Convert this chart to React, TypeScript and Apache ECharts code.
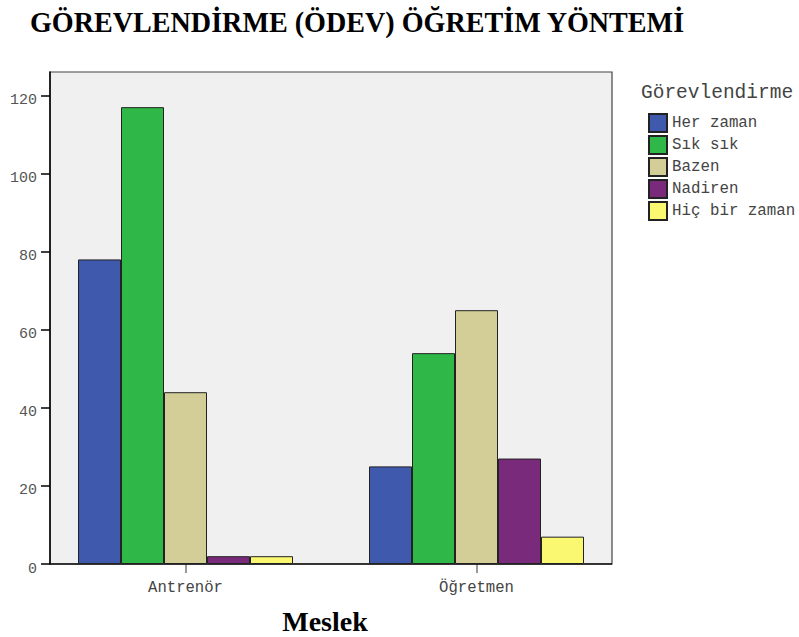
import React, { useEffect, useRef } from "react";
import * as echarts from "echarts";

const categories = ["Antrenör", "Öğretmen"];
const seriesNames = ["Her zaman", "Sık sık", "Bazen", "Nadiren", "Hiç bir zaman"];
const herZaman = [78, 25];
const sikSik = [117, 54];
const bazen = [44, 65];
const nadiren = [2, 27];
const hicBirZaman = [2, 7];
const yTicks = [0, 20, 40, 60, 80, 100, 120];
const colors = ["#3f59ac", "#2fb847", "#d3ce97", "#7a2a7a", "#faf771"];

export default function App() {
  const ref = useRef<HTMLDivElement>(null);
  useEffect(() => {
    if (!ref.current) return;
    const chart = echarts.init(ref.current, undefined, { renderer: "svg" });
    const values = [herZaman, sikSik, bazen, nadiren, hicBirZaman];
    const mono = "Liberation Mono";
    chart.setOption({
      animation: false,
      grid: { left: 40, top: 72, width: 582, height: 492 },
      legend: {
        orient: "vertical",
        left: 648,
        top: 113,
        padding: 0,
        itemWidth: 18,
        itemHeight: 18,
        itemGap: 2,
        icon: "rect",
        textStyle: { fontFamily: mono, fontSize: 15.8, color: "#444", lineHeight: 18 },
        data: seriesNames,
      },
      xAxis: {
        type: "category",
        data: categories,
        axisLine: { show: false },
        axisTick: { show: true, alignWithLabel: true, length: 9, lineStyle: { color: "#777", width: 1.5 } },
        axisLabel: { fontFamily: mono, fontSize: 15.6, color: "#444", margin: 16 },
      },
      yAxis: {
        type: "value",
        min: 0,
        max: 126,
        offset: -10,
        splitLine: { show: false },
        axisLine: { show: true, lineStyle: { color: "#000", width: 1.5 } },
        axisTick: { show: true, length: 9, customValues: yTicks, lineStyle: { color: "#000", width: 1.5 } },
        axisLabel: { fontFamily: mono, fontSize: 15, color: "#555", margin: 13, verticalAlign: "top", lineHeight: 10, customValues: yTicks },
      },
      graphic: [
        { type: "rect", z: 0, shape: { x: 50, y: 72, width: 562, height: 492 }, style: { fill: "#f0f0f0", stroke: "#444", lineWidth: 1.2 } },
        { type: "line", z: 1, shape: { x1: 50, y1: 564, x2: 612, y2: 564 }, style: { stroke: "#111", lineWidth: 1.5 } },
        {
          type: "text", x: 30, y: 8, scaleX: 0.97,
          style: { text: "GÖREVLENDİRME (ÖDEV) ÖĞRETİM YÖNTEMİ", font: "bold 29px 'Liberation Serif'", fill: "#000" },
        },
        {
          type: "text", x: 325, y: 621,
          style: { text: "Meslek", font: "bold 28px 'Liberation Serif'", fill: "#000", align: "center", verticalAlign: "middle" },
        },
        {
          type: "text", x: 641, y: 93,
          style: { text: "Görevlendirme", font: "19.5px 'Liberation Mono'", fill: "#444", align: "left", verticalAlign: "middle" },
        },
      ],
      series: seriesNames.map((name, i) => ({
        name,
        type: "bar",
        data: values[i],
        barWidth: 43,
        barGap: "0%",
        itemStyle: { color: colors[i], borderColor: "#222", borderWidth: 1 },
      })),
    });
    return () => chart.dispose();
  }, []);
  return <div ref={ref} style={{ width: 799, height: 637, position: "absolute", left: 0, top: 0 }} />;
}
